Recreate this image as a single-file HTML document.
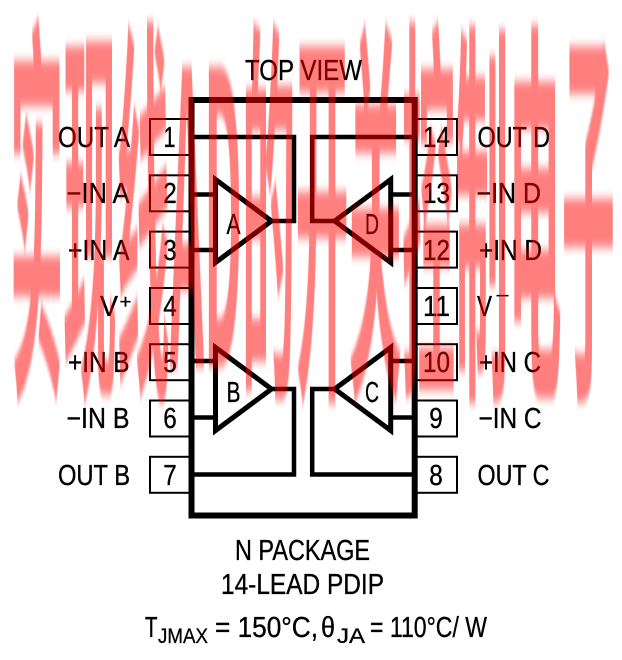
<!DOCTYPE html>
<html>
<head>
<meta charset="utf-8">
<style>
  html, body { margin: 0; padding: 0; background: #ffffff; }
  svg { display: block; }
  .t { font-family: "Liberation Sans", "Noto Sans CJK SC", sans-serif; font-size: 29px; fill: #000; stroke: #000; stroke-width: 0.35px; }
  .s { font-family: "Liberation Sans", sans-serif; font-size: 21px; fill: #000; stroke: #000; stroke-width: 0.3px; }
  .sup { font-family: "Liberation Sans", sans-serif; font-size: 19px; fill: #000; stroke: #000; stroke-width: 0.3px; }
</style>
</head>
<body>
<svg width="622" height="660" viewBox="0 0 622 660" xmlns="http://www.w3.org/2000/svg">
  <defs>
    <filter id="vb" x="-5%" y="-10%" width="110%" height="120%">
      <feGaussianBlur stdDeviation="0 5"/>
    </filter>
  </defs>
  <rect x="0" y="0" width="622" height="660" fill="#ffffff"/>

  <!-- TOP VIEW -->
  <text class="t" x="245" y="80" textLength="117" lengthAdjust="spacingAndGlyphs">TOP VIEW</text>

  <!-- pin boxes -->
  <g fill="none" stroke="#000" stroke-width="2">
    <rect x="150" y="119" width="41.5" height="36"/>
    <rect x="150" y="175.3" width="41.5" height="36"/>
    <rect x="150" y="231.6" width="41.5" height="36"/>
    <rect x="150" y="288" width="41.5" height="36"/>
    <rect x="150" y="344.2" width="41.5" height="36"/>
    <rect x="150" y="400.5" width="41.5" height="36"/>
    <rect x="150" y="456.8" width="41.5" height="36"/>
    <rect x="414.7" y="119" width="42.3" height="36"/>
    <rect x="414.7" y="175.3" width="42.3" height="36"/>
    <rect x="414.7" y="231.6" width="42.3" height="36"/>
    <rect x="414.7" y="288" width="42.3" height="36"/>
    <rect x="414.7" y="344.2" width="42.3" height="36"/>
    <rect x="414.7" y="400.5" width="42.3" height="36"/>
    <rect x="414.7" y="456.8" width="42.3" height="36"/>
  </g>

  <!-- package -->
  <rect x="191.5" y="100" width="223.2" height="415.5" fill="none" stroke="#000" stroke-width="6"/>

  <!-- wires -->
  <g fill="none" stroke="#000" stroke-width="4.5" stroke-linejoin="miter">
    <path d="M194,137 H294 V221 H271.5"/>
    <path d="M194,194.5 H215.5"/>
    <path d="M194,250 H215.5"/>
    <path d="M194,361 H215.5"/>
    <path d="M194,417.5 H215.5"/>
    <path d="M271.5,389 H294 V474.5 H194"/>
    <path d="M412.2,137 H312.2 V221 H334.7"/>
    <path d="M412.2,194.5 H390.7"/>
    <path d="M412.2,250 H390.7"/>
    <path d="M412.2,361 H390.7"/>
    <path d="M412.2,417.5 H390.7"/>
    <path d="M334.7,389 H312.2 V474.5 H412.2"/>
  </g>

  <!-- triangles -->
  <g fill="none" stroke="#000" stroke-width="5" stroke-linejoin="miter" stroke-miterlimit="10">
    <path d="M215.5,179.5 L215.5,262.5 L271.5,221 Z"/>
    <path d="M215.5,347.5 L215.5,430.5 L271.5,389 Z"/>
    <path d="M390.7,179.5 L390.7,262.5 L334.7,221 Z"/>
    <path d="M390.7,347.5 L390.7,430.5 L334.7,389 Z"/>
  </g>

  <!-- amp letters -->
  <text class="t" x="226.5" y="234" textLength="14" lengthAdjust="spacingAndGlyphs">A</text>
  <text class="t" x="365" y="234" textLength="14" lengthAdjust="spacingAndGlyphs">D</text>
  <text class="t" x="226.5" y="402" textLength="14" lengthAdjust="spacingAndGlyphs">B</text>
  <text class="t" x="365" y="402" textLength="14" lengthAdjust="spacingAndGlyphs">C</text>

  <!-- pin numbers -->
  <g text-anchor="middle">
    <text class="t" x="169.5" y="147" textLength="12" lengthAdjust="spacingAndGlyphs">1</text>
    <text class="t" x="170" y="203" textLength="13.5" lengthAdjust="spacingAndGlyphs">2</text>
    <text class="t" x="170" y="260" textLength="13.5" lengthAdjust="spacingAndGlyphs">3</text>
    <text class="t" x="170" y="316" textLength="13.5" lengthAdjust="spacingAndGlyphs">4</text>
    <text class="t" x="170" y="372" textLength="13.5" lengthAdjust="spacingAndGlyphs">5</text>
    <text class="t" x="170" y="428" textLength="13.5" lengthAdjust="spacingAndGlyphs">6</text>
    <text class="t" x="170" y="485" textLength="13.5" lengthAdjust="spacingAndGlyphs">7</text>
    <text class="t" x="436.5" y="147" textLength="27" lengthAdjust="spacingAndGlyphs">14</text>
    <text class="t" x="436.5" y="203" textLength="27" lengthAdjust="spacingAndGlyphs">13</text>
    <text class="t" x="436.5" y="260" textLength="27" lengthAdjust="spacingAndGlyphs">12</text>
    <text class="t" x="436.5" y="316" textLength="27" lengthAdjust="spacingAndGlyphs">11</text>
    <text class="t" x="436.5" y="372" textLength="27" lengthAdjust="spacingAndGlyphs">10</text>
    <text class="t" x="436" y="428" textLength="13.5" lengthAdjust="spacingAndGlyphs">9</text>
    <text class="t" x="436" y="485" textLength="13.5" lengthAdjust="spacingAndGlyphs">8</text>
  </g>

  <!-- left labels -->
  <text class="t" x="58" y="147" textLength="72" lengthAdjust="spacingAndGlyphs">OUT A</text>
  <text class="t" x="66.5" y="203" textLength="63" lengthAdjust="spacingAndGlyphs">−IN A</text>
  <text class="t" x="68" y="260" textLength="61.5" lengthAdjust="spacingAndGlyphs">+IN A</text>
  <text class="t" x="100" y="316" textLength="18" lengthAdjust="spacingAndGlyphs">V</text>
  <text class="sup" x="119.5" y="308" textLength="12" lengthAdjust="spacingAndGlyphs">+</text>
  <text class="t" x="68" y="372" textLength="61.5" lengthAdjust="spacingAndGlyphs">+IN B</text>
  <text class="t" x="66.5" y="428" textLength="63" lengthAdjust="spacingAndGlyphs">−IN B</text>
  <text class="t" x="58" y="485" textLength="72" lengthAdjust="spacingAndGlyphs">OUT B</text>

  <!-- right labels -->
  <text class="t" x="477.5" y="147" textLength="72.5" lengthAdjust="spacingAndGlyphs">OUT D</text>
  <text class="t" x="476.5" y="203" textLength="64.5" lengthAdjust="spacingAndGlyphs">−IN D</text>
  <text class="t" x="479" y="260" textLength="63" lengthAdjust="spacingAndGlyphs">+IN D</text>
  <text class="t" x="477" y="316" textLength="15" lengthAdjust="spacingAndGlyphs">V</text>
  <text class="sup" x="495.5" y="302" textLength="14" lengthAdjust="spacingAndGlyphs">−</text>
  <text class="t" x="479" y="372" textLength="62" lengthAdjust="spacingAndGlyphs">+IN C</text>
  <text class="t" x="478.5" y="428" textLength="63" lengthAdjust="spacingAndGlyphs">−IN C</text>
  <text class="t" x="477.5" y="485" textLength="72" lengthAdjust="spacingAndGlyphs">OUT C</text>

  <!-- bottom text -->
  <text class="t" x="235" y="560" textLength="135" lengthAdjust="spacingAndGlyphs">N PACKAGE</text>
  <text class="t" x="221" y="594" textLength="163" lengthAdjust="spacingAndGlyphs">14-LEAD PDIP</text>

  <text class="t" x="145" y="637" textLength="12.5" lengthAdjust="spacingAndGlyphs">T</text>
  <text class="s" x="158" y="643" textLength="50" lengthAdjust="spacingAndGlyphs">JMAX</text>
  <text class="t" x="215" y="637" textLength="103" lengthAdjust="spacingAndGlyphs">= 150°C,</text>
  <text class="t" x="321" y="637" textLength="14" lengthAdjust="spacingAndGlyphs">θ</text>
  <text class="s" x="337" y="643" textLength="28" lengthAdjust="spacingAndGlyphs">JA</text>
  <text class="t" x="370" y="637" textLength="117" lengthAdjust="spacingAndGlyphs">= 110°C/ W</text>

  <!-- watermark -->
  <g opacity="0.5" filter="url(#vb)">
    <text x="10" y="45.3" transform="scale(1,8.1)" font-family="'Noto Sans CJK SC', 'WenQuanYi Zen Hei', sans-serif" font-size="50" font-weight="bold" fill="#ff0000" textLength="605" lengthAdjust="spacingAndGlyphs">实现线AD的开关控制电子</text>
  </g>
</svg>
</body>
</html>
